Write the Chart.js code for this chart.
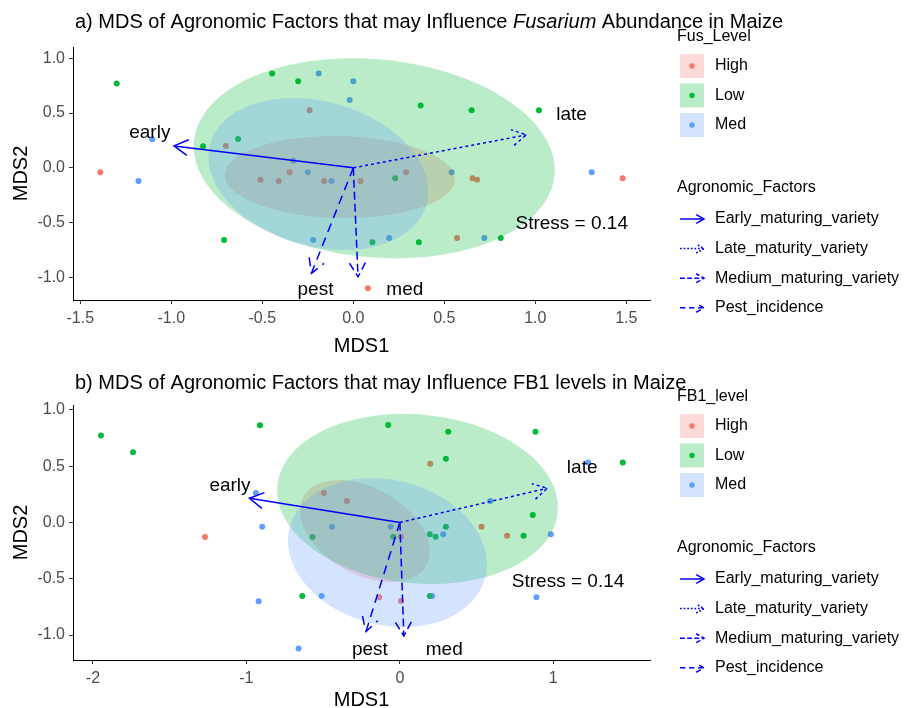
<!DOCTYPE html>
<html>
<head>
<meta charset="utf-8">
<script src="https://cdn.jsdelivr.net/npm/chart.js@4.4.0/dist/chart.umd.min.js"></script>
<style>
  html, body { margin: 0; padding: 0; background: #fff; overflow: hidden; }
  canvas { position: absolute; left: 0; }
  #fus { top: 0; }
  #fb1 { top: 360px; }
</style>
</head>
<body>
<canvas id="fus" width="905" height="360"></canvas>
<canvas id="fb1" width="905" height="360"></canvas>
<script>
const levels = ['High', 'Low', 'Med'];
const factors = ['Early_maturing_variety', 'Late_maturity_variety', 'Medium_maturing_variety', 'Pest_incidence'];
const factorTags = ['early', 'late', 'med', 'pest'];

// a) Fusarium abundance
const fusHigh = [[-1.39, -0.04], [-0.70, 0.20], [-0.24, 0.525], [-0.51, -0.11], [-0.41, -0.12], [-0.35, -0.04],
  [-0.16, -0.12], [0.04, -0.12], [0.29, -0.04], [0.655, -0.095], [0.68, -0.11], [0.57, -0.64], [0.08, -1.10], [1.48, -0.095]];
const fusLow = [[-1.30, 0.77], [-0.446, 0.86], [-0.303, 0.79], [-0.825, 0.196], [-0.633, 0.263], [-0.71, -0.66],
  [0.37, 0.57], [0.65, 0.525], [1.02, 0.525], [0.23, -0.096], [0.105, -0.68], [0.36, -0.68], [0.81, -0.64]];
const fusMed = [[-1.105, 0.26], [-1.18, -0.12], [-0.19, 0.86], [0.0, 0.79], [-0.02, 0.62], [-0.33, 0.065],
  [-0.25, -0.04], [-0.12, -0.12], [-0.22, -0.66], [1.31, -0.04], [0.54, -0.04], [0.197, -0.64], [0.72, -0.64]];
// ellipse per level: centre x, centre y, half width, half height, correlation
const fusEllipse = [[-0.074, -0.084, 0.632, 0.374, -0.05], [0.115, 0.087, 0.992, 0.913, -0.12], [-0.192, -0.057, 0.604, 0.694, -0.23]];
const fusArrows = [[-0.985, 0.20], [0.95, 0.30], [0.026, -0.995], [-0.23, -0.963]];
const fusStress = 0.14;
const fusXTicks = [-1.5, -1, -0.5, 0, 0.5, 1, 1.5];
const fusXLabels = ['-1.5', '-1.0', '-0.5', '0.0', '0.5', '1.0', '1.5'];
const fusYTicks = [-1, -0.5, 0, 0.5, 1];
const fusYLabels = ['-1.0', '-0.5', '0.0', '0.5', '1.0'];

// b) FB1 levels
const fbHigh = [[-1.27, -0.129], [-0.495, 0.262], [-0.345, 0.191], [0.198, 0.523], [0.007, -0.126], [0.532, -0.037],
  [0.699, -0.117], [-0.135, -0.665], [0.007, -0.698]];
const fbLow = [[-1.948, 0.772], [-1.739, 0.624], [-0.912, 0.864], [-0.569, -0.129], [-0.636, -0.653], [-0.076, 0.867],
  [0.315, 0.807], [0.884, 0.807], [0.30, 0.567], [1.453, 0.532], [0.866, 0.067], [-0.043, -0.126], [0.30, -0.037],
  [0.195, -0.105], [0.233, -0.126], [0.806, -0.117], [0.195, -0.653]];
const fbMed = [[-0.938, 0.262], [-0.897, -0.037], [-0.443, -0.037], [-0.51, -0.653], [-0.92, -0.70], [-0.66, -1.12],
  [1.227, 0.532], [0.59, 0.191], [-0.06, -0.037], [0.282, -0.105], [0.984, -0.105], [0.21, -0.653], [0.89, -0.665]];
const fbEllipse = [[-0.228, -0.076, 0.423, 0.453, -0.4], [0.115, 0.209, 0.915, 0.756, -0.1], [-0.081, -0.267, 0.648, 0.662, -0.16]];
const fbArrows = [[-0.98, 0.215], [0.96, 0.304], [0.026, -1.009], [-0.221, -0.97]];
const fbStress = 0.14;
const fbXTicks = [-2, -1, 0, 1];
const fbXLabels = ['-2', '-1', '0', '1'];
const fbYTicks = [-1, -0.5, 0, 0.5, 1];
const fbYLabels = ['-1.0', '-0.5', '0.0', '0.5', '1.0'];

// where the text annotations sit (data units)
const fusNotes = { early: [-1.118, 0.32], late: [1.199, 0.482], pest: [-0.208, -1.116], med: [0.283, -1.11], stress: [1.2, -0.513] };
const fbNotes = { early: [-1.107, 0.324], late: [1.188, 0.482], pest: [-0.195, -1.127], med: [0.289, -1.127], stress: [1.096, -0.526] };

const colors = ['#F8766D', '#00BA38', '#619CFF'];
const fills = ['rgba(248,118,109,0.27)', 'rgba(0,186,56,0.27)', 'rgba(97,156,255,0.27)'];
const dashes = [[], [3, 3], [8, 4], [9, 6]];
const FONT = "'Liberation Sans', Arial, sans-serif";
Chart.defaults.font.family = FONT;

function ellipsePath(ctx, xs, ys, e) {
  const [cx, cy, sx, sy, r] = e;
  const q = Math.sqrt(1 - r * r);
  ctx.beginPath();
  for (let i = 0; i <= 120; i++) {
    const t = i / 120 * Math.PI * 2;
    const px = xs.getPixelForValue(cx + sx * Math.cos(t));
    const py = ys.getPixelForValue(cy + sy * (r * Math.cos(t) + q * Math.sin(t)));
    if (i) ctx.lineTo(px, py); else ctx.moveTo(px, py);
  }
  ctx.closePath();
}

function arrow(ctx, x0, y0, x1, y1, head, dash) {
  const a = Math.atan2(y1 - y0, x1 - x0);
  ctx.setLineDash(dash);
  ctx.beginPath();
  ctx.moveTo(x0, y0);
  ctx.lineTo(x1, y1);
  ctx.stroke();
  ctx.beginPath();
  ctx.moveTo(x1 - head * Math.cos(a - 0.52), y1 - head * Math.sin(a - 0.52));
  ctx.lineTo(x1, y1);
  ctx.lineTo(x1 - head * Math.cos(a + 0.52), y1 - head * Math.sin(a + 0.52));
  ctx.stroke();
  ctx.setLineDash([]);
}

const extras = {
  id: 'extras',
  afterDatasetsDraw(chart, args, o) {
    const { ctx, chartArea: ca, scales: { x, y } } = chart;
    ctx.save();
    ctx.beginPath();
    ctx.rect(ca.left, ca.top, ca.right - ca.left, ca.bottom - ca.top);
    ctx.clip();
    o.ellipses.forEach((e, i) => {
      ellipsePath(ctx, x, y, e);
      ctx.fillStyle = fills[i];
      ctx.fill();
    });
    ctx.restore();
  },
  afterDraw(chart, args, o) {
    const { ctx, scales: { x, y } } = chart;
    ctx.save();
    // vectors
    ctx.strokeStyle = '#0000ff';
    ctx.lineWidth = 1.5;
    const x0 = x.getPixelForValue(0), y0 = y.getPixelForValue(0);
    o.arrows.forEach((a, i) => {
      arrow(ctx, x0, y0, x.getPixelForValue(a[0]), y.getPixelForValue(a[1]), 16, dashes[i]);
    });
    // annotations
    ctx.fillStyle = '#000';
    ctx.font = '19px ' + FONT;
    ctx.textAlign = 'center';
    ctx.textBaseline = 'middle';
    factorTags.forEach(t => {
      const p = o.notes[t];
      ctx.fillText(t, x.getPixelForValue(p[0]), y.getPixelForValue(p[1]));
    });
    const s = o.notes.stress;
    ctx.fillText('Stress = ' + o.stress.toFixed(2), x.getPixelForValue(s[0]), y.getPixelForValue(s[1]));
    // title
    ctx.textAlign = 'left';
    ctx.textBaseline = 'alphabetic';
    let tx = 75;
    o.title.forEach(([txt, it]) => {
      ctx.font = (it ? 'italic ' : '') + '20px ' + FONT;
      ctx.fillText(txt, tx, o.titleY);
      tx += ctx.measureText(txt).width;
    });
    // legends
    ctx.font = '16px ' + FONT;
    ctx.textBaseline = 'middle';
    ctx.fillText(o.legendTitle, 677, 37);
    levels.forEach((lv, i) => {
      const cy = 66 + i * 29.5;
      ctx.fillStyle = fills[i];
      ctx.fillRect(680, cy - 12, 24, 24);
      ctx.fillStyle = colors[i];
      ctx.beginPath();
      ctx.arc(692, cy, 2.7, 0, Math.PI * 2);
      ctx.fill();
      ctx.fillStyle = '#000';
      ctx.fillText(lv, 715, cy);
    });
    ctx.fillText('Agronomic_Factors', 677, 188);
    factors.forEach((f, i) => {
      const cy = 219 + i * 29.6;
      ctx.strokeStyle = '#0000ff';
      ctx.lineWidth = 1.5;
      arrow(ctx, 680, cy, 704, cy, 9, dashes[i].map(d => d * 0.6));
      ctx.fillStyle = '#000';
      ctx.fillText(f, 715, cy);
    });
    ctx.restore();
  }
};

function makeChart(id, series, opts) {
  const toPts = arr => arr.map(p => ({ x: p[0], y: p[1] }));
  return new Chart(document.getElementById(id), {
    type: 'scatter',
    data: {
      datasets: levels.map((lv, i) => ({
        label: lv,
        data: toPts(series[i]),
        pointRadius: 3,
        pointHoverRadius: 3,
        pointBorderWidth: 0,
        pointBackgroundColor: colors[i],
        borderColor: colors[i]
      }))
    },
    options: {
      responsive: false,
      animation: false,
      devicePixelRatio: 1,
      layout: { padding: { left: 0, top: opts.top, right: 255, bottom: 0 } },
      plugins: {
        legend: { display: false },
        tooltip: { enabled: false },
        extras: opts
      },
      scales: {
        x: {
          type: 'linear',
          min: opts.xRange[0],
          max: opts.xRange[1],
          afterBuildTicks: s => { s.ticks = opts.xTicks.map(v => ({ value: v })); },
          afterFit: s => { s.height = 60; },
          ticks: { callback: (v, i) => opts.xLabels[i], color: '#4d4d4d', font: { size: 16 }, padding: 5, autoSkip: false, maxRotation: 0 },
          grid: { drawOnChartArea: false, drawTicks: true, tickLength: 4, tickColor: '#333' },
          border: { display: true, color: '#000', width: 1 },
          title: { display: true, text: 'MDS1', color: '#000', font: { size: 20 }, padding: { top: 0, bottom: opts.xTitlePad } }
        },
        y: {
          type: 'linear',
          min: opts.yRange[0],
          max: opts.yRange[1],
          afterBuildTicks: s => { s.ticks = opts.yTicks.map(v => ({ value: v })); },
          afterFit: s => { s.width = 73; },
          ticks: { callback: (v, i) => opts.yLabels[i], color: '#4d4d4d', font: { size: 16 }, padding: 4, autoSkip: false },
          grid: { drawOnChartArea: false, drawTicks: true, tickLength: 4, tickColor: '#333' },
          border: { display: true, color: '#000', width: 1 },
          title: { display: true, text: 'MDS2', color: '#000', font: { size: 20 }, padding: { top: 9, bottom: 0 } }
        }
      }
    },
    plugins: [extras]
  });
}

makeChart('fus', [fusHigh, fusLow, fusMed], {
  top: 47, xRange: [-1.54, 1.63], yRange: [-1.207, 1.103], xTitlePad: 2,
  xTicks: fusXTicks, xLabels: fusXLabels, yTicks: fusYTicks, yLabels: fusYLabels,
  ellipses: fusEllipse, arrows: fusArrows, notes: fusNotes, stress: fusStress,
  title: [['a) MDS of Agronomic Factors that may Influence ', false], ['Fusarium', true], [' Abundance in Maize', false]],
  titleY: 28, legendTitle: 'Fus_Level'
});

makeChart('fb1', [fbHigh, fbLow, fbMed], {
  top: 45, xRange: [-2.13, 1.63], yRange: [-1.222, 1.044], xTitlePad: 8,
  xTicks: fbXTicks, xLabels: fbXLabels, yTicks: fbYTicks, yLabels: fbYLabels,
  ellipses: fbEllipse, arrows: fbArrows, notes: fbNotes, stress: fbStress,
  title: [['b) MDS of Agronomic Factors that may Influence FB1 levels in Maize', false]],
  titleY: 29, legendTitle: 'FB1_level'
});
</script>
</body>
</html>
